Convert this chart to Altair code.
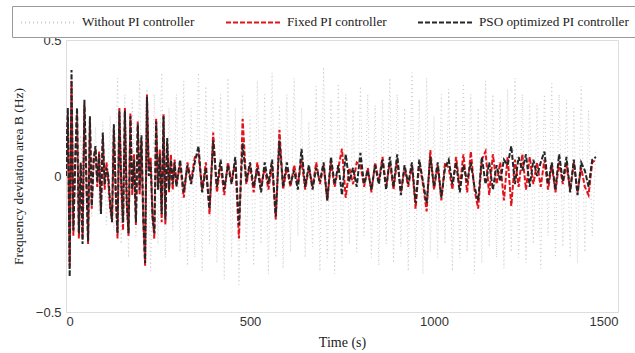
import altair as alt
import pandas as pd

series_names = ["Without PI controller", "Fixed PI controller", "PSO optimized PI controller"]
series_colors = ["#cbcbcb", "#e3131b", "#262626"]

# sample times (s)
t_early = list(range(0, 300, 5))
t_late = list(range(300, 1450, 10))
t_gray = list(range(0, 1450, 10))

# PSO optimized PI controller (black)
black_early = [0.0, 0.25, -0.37, 0.39, -0.2, 0.05, 0.25, -0.21, 0.05, -0.25,
               0.28, 0.0, -0.24, 0.22, -0.11, 0.05, 0.11, -0.02, 0.08, -0.14,
               0.16, -0.03, 0.03, 0.0, -0.1, -0.17, 0.19, -0.05, -0.21, 0.24,
               -0.02, -0.17, 0.24, -0.1, -0.21, 0.22, -0.05, 0.06, -0.17, 0.19,
               -0.05, 0.15, -0.15, -0.32, 0.29, 0.0, 0.05, -0.15, -0.21, 0.2,
               -0.05, 0.08, -0.14, 0.22, -0.16, 0.14, -0.05, 0.06, -0.03, 0.05]
black_late = [-0.04, 0.06, -0.06, 0.04, -0.03, 0.05, 0.11, -0.06, 0.03, -0.12,
              0.13, -0.04, 0.06, -0.05, 0.04, -0.03, 0.07, -0.18, 0.12, -0.02,
              0.05, -0.04, 0.03, -0.06, 0.05, -0.03, 0.06, -0.15, 0.13, -0.04,
              0.05, -0.03, 0.02, -0.05, 0.1, -0.04, 0.04, -0.05, 0.03, -0.02,
              0.05, -0.09, 0.07, -0.03, 0.04, -0.07, 0.08, -0.02, 0.03, -0.04,
              0.085, -0.03, 0.02, -0.05, 0.04, -0.03, 0.06, -0.05, 0.07, -0.04,
              0.08, -0.07, 0.04, -0.03, 0.05, -0.1, 0.06, -0.02, -0.1, 0.07,
              -0.04, 0.05, -0.08, 0.03, 0.06, -0.03, 0.05, -0.06, 0.04, -0.02,
              0.05, -0.04, -0.09, 0.07, -0.03, 0.05, -0.05, 0.04, -0.02, 0.06,
              0.04, 0.11, -0.03, 0.07, 0.02, 0.08, -0.04, 0.06, 0.0, 0.05,
              0.09, -0.03, 0.05, -0.05, 0.08, -0.02, 0.07, -0.06, 0.06, -0.07,
              0.05, 0.02, -0.04, 0.06, 0.07]

# Fixed PI controller (red)
red_early = [0.0, 0.22, -0.33, 0.35, -0.22, 0.06, 0.24, -0.23, 0.04, -0.23,
             0.26, 0.02, -0.25, 0.2, -0.12, 0.07, 0.1, -0.04, 0.09, -0.12,
             0.14, -0.05, 0.05, -0.02, -0.12, -0.16, 0.17, -0.06, -0.23, 0.25,
             -0.03, -0.2, 0.25, -0.08, -0.22, 0.23, -0.07, 0.08, -0.18, 0.2,
             -0.07, 0.13, -0.17, -0.33, 0.3, 0.02, 0.07, -0.14, -0.23, 0.21,
             -0.04, 0.1, -0.17, 0.23, -0.18, 0.12, -0.06, 0.08, -0.05, 0.06]
red_late = [-0.03, 0.04, -0.08, 0.05, -0.02, 0.07, 0.08, -0.05, 0.05, -0.14,
            0.16, -0.06, 0.04, -0.07, 0.05, -0.02, 0.05, -0.23, 0.21, -0.03,
            0.04, -0.06, 0.05, -0.04, 0.03, -0.05, 0.04, -0.16, 0.17, -0.05,
            0.03, -0.04, 0.04, -0.03, 0.06, -0.05, 0.03, -0.04, 0.05, -0.03,
            0.04, -0.09, 0.05, -0.04, 0.03, 0.1, -0.08, 0.03, -0.03, 0.05,
            0.04, -0.04, 0.03, -0.06, 0.05, -0.02, 0.07, -0.04, 0.05, -0.05,
            0.06, -0.06, 0.03, -0.04, 0.04, -0.12, 0.05, -0.03, -0.13, 0.095,
            -0.05, 0.04, -0.09, 0.05, 0.03, -0.05, 0.07, -0.04, 0.08, -0.06,
            0.09, -0.05, -0.12, 0.06, 0.09, -0.07, 0.08, -0.03, 0.05, -0.09,
            0.07, -0.11, 0.06, -0.04, 0.08, -0.05, 0.07, -0.03, 0.05, -0.04,
            0.06, -0.05, 0.04, -0.06, 0.05, -0.03, 0.04, -0.05, 0.05, -0.06,
            0.03, -0.04, -0.07, 0.05, 0.06]

# Without PI controller (light gray dotted)
gray_vals = [0.05, -0.08, 0.12, -0.1, 0.15, -0.12, 0.1, -0.15, 0.18, -0.14, 0.2, -0.18, 0.22, -0.2, 0.36,
             -0.25, 0.3, -0.3, 0.28, -0.22, 0.35, -0.28, 0.32, -0.35, 0.3, -0.25, 0.38, -0.3, 0.25, -0.2,
             0.3, -0.28, 0.35, -0.33, 0.25, -0.3, 0.38, -0.35, 0.33, -0.25, 0.28, -0.32, 0.3, -0.38, 0.36,
             -0.3, 0.25, -0.4, 0.3, -0.28, 0.22, -0.33, 0.35, -0.25, 0.3, -0.36, 0.38, -0.3, 0.26, -0.34,
             0.3, -0.28, 0.36, -0.22, 0.25, -0.3, 0.2, -0.26, 0.33, -0.35, 0.4, -0.3, 0.28, -0.36, 0.34,
             -0.3, 0.3, -0.25, 0.24, -0.28, 0.33, -0.22, 0.3, -0.3, 0.26, -0.33, 0.28, -0.25, 0.36, -0.32,
             0.3, -0.26, 0.25, -0.35, 0.38, -0.3, 0.28, -0.36, 0.36, -0.28, 0.22, -0.3, 0.3, -0.25, 0.32,
             -0.35, 0.28, -0.3, 0.34, -0.28, 0.3, -0.36, 0.25, -0.32, 0.35, -0.26, 0.3, -0.3, 0.28, -0.34,
             0.32, -0.28, 0.36, -0.3, 0.3, -0.32, 0.27, -0.25, 0.26, -0.34, 0.3, -0.22, 0.34, -0.3, 0.3,
             -0.26, 0.28, -0.3, 0.25, -0.32, 0.33, -0.28, 0.24, -0.22, 0.1]


def frame(times, vals, name):
    return pd.DataFrame({"t": times[:len(vals)], "v": vals, "series": name})


df_gray = frame(t_gray, gray_vals, series_names[0])
df_red = pd.concat([frame(t_early, red_early, series_names[1]),
                    frame(t_late, red_late, series_names[1])])
df_black = pd.concat([frame(t_early, black_early, series_names[2]),
                      frame(t_late, black_late, series_names[2])])

color_scale = alt.Scale(domain=series_names, range=series_colors)
dash_scale = alt.Scale(domain=series_names, range=[[1, 3], [5, 2], [5, 2]])

legend = alt.Legend(
    title=None, orient="none", legendX=-54, legendY=-34, direction="horizontal",
    symbolType="M-1,0H7", symbolSize=196, symbolStrokeWidth=2,
    labelFont="Liberation Serif", labelFontSize=13.2, labelColor="#222",
    labelOffset=46, columnPadding=27, padding=8,
    strokeColor="#9a9a9a", fillColor="white",
)

x_enc = alt.X("t:Q", scale=alt.Scale(domain=[0, 1500], nice=False),
              axis=alt.Axis(values=[0, 500, 1000, 1500], format="d", title="Time (s)",
                            labelFont="Liberation Sans", labelFontSize=13, labelColor="#333",
                            labelPadding=3, titleFont="Liberation Serif", titleFontSize=14,
                            titleFontWeight="normal", titleColor="#222", titlePadding=7,
                            ticks=False, domain=False, grid=False))
y_enc = alt.Y("v:Q", scale=alt.Scale(domain=[-0.5, 0.5], nice=False),
              axis=alt.Axis(values=[-0.5, 0, 0.5], title="Frequency deviation area B (Hz)",
                            labelExpr="datum.value == 0 ? '0' : format(datum.value, '.1f')",
                            labelFont="Liberation Sans", labelFontSize=13, labelColor="#333",
                            labelPadding=5, titleFont="Liberation Serif", titleFontSize=13.5,
                            titleFontWeight="normal", titleColor="#222", titlePadding=10,
                            ticks=False, domain=False, grid=False))


def layer(df, width):
    return alt.Chart(df).mark_line(strokeWidth=width, clip=True).encode(
        x=x_enc, y=y_enc,
        color=alt.Color("series:N", scale=color_scale, legend=legend),
        strokeDash=alt.StrokeDash("series:N", scale=dash_scale, legend=legend),
    )


chart = alt.layer(
    layer(df_gray, 1.0),
    layer(df_red, 2.0),
    layer(df_black, 2.0),
).properties(
    width=552, height=272,
    autosize=alt.AutoSizeParams(type="none"),
    padding={"left": 66, "top": 40, "right": 17, "bottom": 41},
).configure_view(stroke="#8a8a8a", strokeWidth=1).configure(background="white")

chart.save("out.html", embed_options={"renderer": "svg", "actions": False})
